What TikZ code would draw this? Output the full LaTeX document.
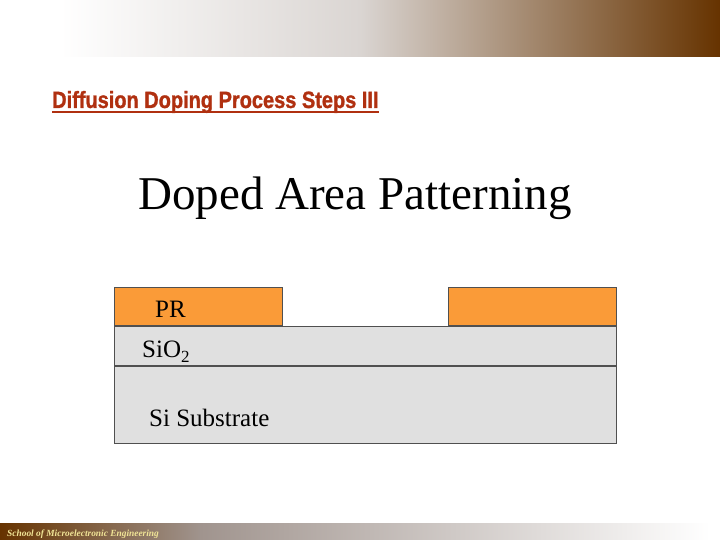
\documentclass[tikz,border=0pt]{standalone}
\usepackage{fontspec}
\setmainfont{Liberation Serif}
\newfontfamily\headfont[FakeStretch=0.85, FakeBold=1.2]{Liberation Sans}
\usetikzlibrary{positioning}

\definecolor{brownbar}{RGB}{102,51,0}
\definecolor{lightbar}{RGB}{218,213,210}
\definecolor{midbar}{RGB}{158,142,136}
\definecolor{footmid}{RGB}{160,148,142}
\definecolor{titlered}{RGB}{176,48,16}
\definecolor{resist}{RGB}{250,155,56}
\definecolor{oxide}{RGB}{224,224,224}
\definecolor{edge}{RGB}{80,80,80}
\definecolor{footyellow}{RGB}{240,228,150}

\begin{document}
\begin{tikzpicture}[x=1pt, y=-1pt,
    layer/.style={draw=edge, line width=0.8pt, rectangle, fill=oxide, inner sep=0pt},
    prbox/.style={draw=edge, line width=0.8pt, rectangle, fill=resist, inner sep=0pt, minimum height=38pt},
    lbl/.style={inner sep=0pt, anchor=base west, font=\fontsize{25}{30}\selectfont}]
    \useasboundingbox (0,0) rectangle (720,540);
    \fill[white] (0,0) rectangle (720,540);

    % header and footer bars
    \shade[left color=white, right color=lightbar] (60,0) rectangle (361,57);
    \shade[left color=lightbar, middle color=midbar, right color=brownbar] (360,0) rectangle (720,57);
    \shade[left color=brownbar, right color=footmid] (0,523) rectangle (201,540);
    \shade[left color=footmid, middle color=lightbar, right color=white] (200,523) rectangle (710,540);
    \node (footer) [anchor=base west, inner sep=0pt, text=footyellow, font=\fontsize{9.4}{10}\selectfont\bfseries\itshape] at (7,536) {School of Microelectronic Engineering};

    % titles
    \node (title) [anchor=base west, inner sep=0pt, text=titlered, font=\headfont\fontsize{23.5}{26}\selectfont\bfseries] at (52,108) {Diffusion Doping Process Steps III};
    \draw [titlered, line width=1.3pt] ([yshift=-4pt]title.base west) -- ([yshift=-4pt]title.base east);
    \node (heading) [anchor=base, inner sep=0pt, font=\fontsize{47}{54}\selectfont] at (355,210) {Doped Area Patterning};

    % layer stack
    \node (substrate) [layer, minimum width=502pt, minimum height=77pt, anchor=north west] at (114,366) {};
    \node (sio2) [layer, minimum width=502pt, minimum height=39pt, above=0pt of substrate] {};
    \node (prleft) [prbox, minimum width=168pt, anchor=south west] at (sio2.north west) {};
    \node (prright) [prbox, minimum width=168pt, anchor=south east] at (sio2.north east) {};

    % labels
    \node (prlabel) [lbl] at (155,317) {PR};
    \node (sio2label) [lbl] at (142,357.5) {SiO\raisebox{-5pt}{\fontsize{17}{20}\selectfont 2}};
    \node (sublabel) [lbl] at (149,426.5) {Si Substrate};
\end{tikzpicture}
\end{document}
